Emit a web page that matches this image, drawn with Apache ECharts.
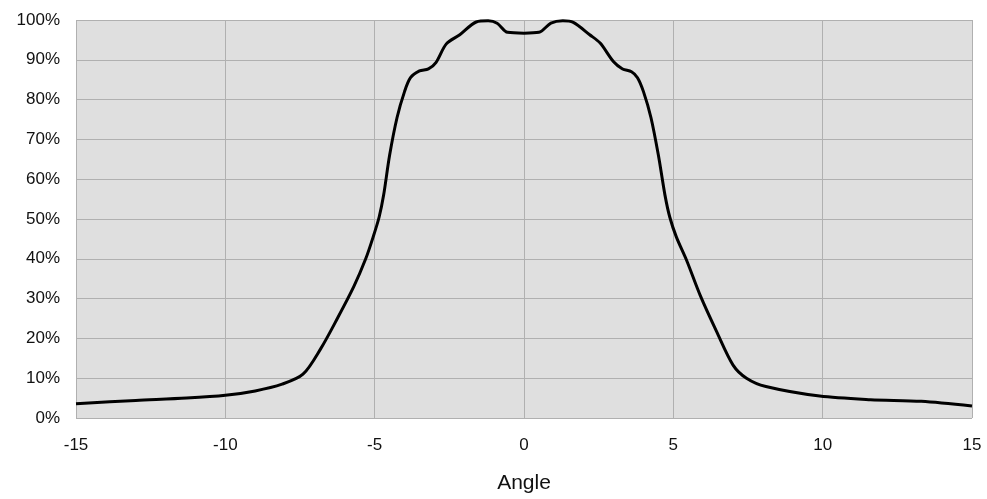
<!DOCTYPE html>
<html>
<head>
<meta charset="utf-8">
<script src="https://cdn.jsdelivr.net/npm/echarts@6/dist/echarts.min.js"></script>
<style>
  html, body { margin: 0; padding: 0; background: #fff; }
  #chart { width: 987px; height: 499px; }
</style>
</head>
<body>
<div id="chart"></div>
<script>
// angle (deg) and relative intensity (%)
var angles = [-15, -13, -11.3, -10, -9, -8.1, -7.4, -6.8, -6.25, -5.7, -5.3, -5.05, -4.85, -4.7, -4.5, -4.25, -4.0, -3.8, -3.5, -3.2, -2.95, -2.6, -2.15, -1.6, -1.2, -0.9, -0.55, 0,
              0.5, 0.9, 1.3, 1.65, 2.2, 2.55, 3.0, 3.3, 3.6, 3.8, 4.0, 4.25, 4.5, 4.72, 4.88, 5.1, 5.45, 5.9, 6.45, 7.0, 7.45, 8.1, 9.9, 11.6, 13.3, 15];
var intensity = [3.6, 4.4, 5.0, 5.7, 6.8, 8.5, 11, 17.5, 25, 33, 40, 45.5, 50.5, 56, 66, 75.5, 82, 85.5, 87.2, 87.7, 89.3, 94, 96.3, 99.5, 99.8, 99.2, 96.9, 96.7,
                 96.9, 99.2, 99.8, 99.4, 96.3, 94.2, 89.5, 87.7, 87, 85.5, 82, 75.5, 66, 56, 50.5, 45.5, 39.5, 30.8, 21.7, 13.3, 10, 7.9, 5.5, 4.6, 4.2, 3.0];

var points = [];
for (var i = 0; i < angles.length; i++) {
    points.push([angles[i], intensity[i]]);
}

var myChart = echarts.init(document.getElementById('chart'));
var option = {
    animation: false,
    grid: {
        left: 76,
        right: 15,
        top: 20,
        bottom: 79,
        show: true,
        backgroundColor: '#dfdfdf',
        borderWidth: 0
    },
    xAxis: {
        type: 'value',
        min: -15,
        max: 15,
        interval: 5,
        name: 'Angle',
        nameLocation: 'middle',
        nameGap: 55,
        nameTextStyle: { color: '#111', fontSize: 21, fontFamily: 'Liberation Sans' },
        axisLine: { show: false },
        axisTick: { show: false },
        axisLabel: { color: '#111', fontSize: 17, fontFamily: 'Liberation Sans', margin: 19 },
        splitLine: { show: true, lineStyle: { color: '#b0b0b0', width: 1 } }
    },
    yAxis: {
        type: 'value',
        min: 0,
        max: 100,
        interval: 10,
        axisLine: { show: false },
        axisTick: { show: false },
        axisLabel: { color: '#111', fontSize: 17, fontFamily: 'Liberation Sans', margin: 16, formatter: '{value}%' },
        splitLine: { show: true, lineStyle: { color: '#b0b0b0', width: 1 } }
    },
    series: [{
        type: 'line',
        data: points,
        smooth: 0.3,
        showSymbol: false,
        lineStyle: { color: '#000', width: 3 }
    }]
};
myChart.setOption(option);
</script>
</body>
</html>
